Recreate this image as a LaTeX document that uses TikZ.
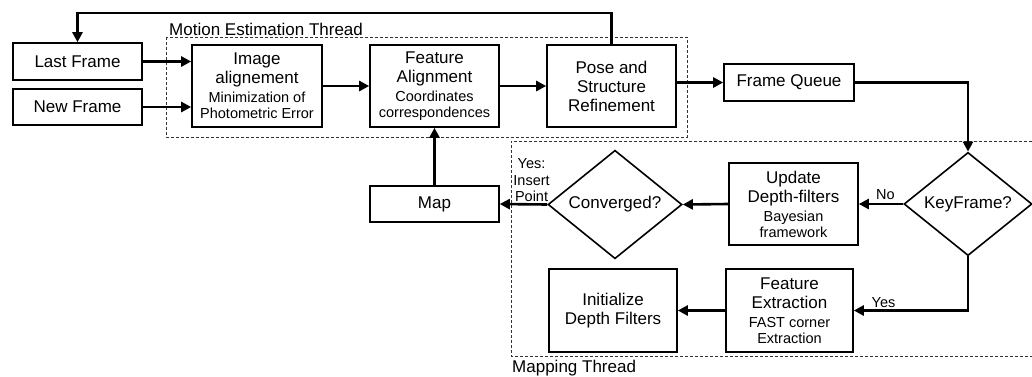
\documentclass[tikz,border=0pt]{standalone}
\usepackage{fontspec}
\setsansfont{Liberation Sans}
\usepackage{tikz}
\usetikzlibrary{arrows.meta,shapes.geometric,positioning}
\newcommand\blockfont{\sffamily\fontsize{17}{19}\selectfont}
\newcommand\notefont{\sffamily\fontsize{14.5}{16.5}\selectfont}
\tikzset{
  block/.style  = {draw, line width=1.6pt, font=\blockfont, align=center,
                   minimum width=129pt, inner sep=2pt},
  tall/.style   = {block, minimum height=82pt},
  flat/.style   = {block, minimum height=37pt},
  decide/.style = {draw, diamond, line width=1.6pt, font=\blockfont, inner sep=0pt,
                   minimum width=134pt, minimum height=87pt},
  flow/.style   = {-{Triangle[length=10pt,width=10pt]}, line width=2.6pt},
  thread/.style = {line width=0.8pt, dash pattern=on 3pt off 2pt, black!80},
  note/.style   = {font=\notefont, align=center, inner sep=1pt}
}

\begin{document}
\begin{tikzpicture}[x=1pt,y=-1pt]
\useasboundingbox (0,0) rectangle (1032,376);
% threads
\draw[thread] (166,37) rectangle (687,137);
\node[anchor=base west, inner sep=0pt, font=\blockfont] (motionlbl) at (169,35) {Motion Estimation Thread};
\draw[thread] (1032,141) -| (511,356) -- (1032,356);
\node[anchor=base west, inner sep=0pt, font=\blockfont] (mappinglbl) at (512,372) {Mapping Thread};

% motion estimation
\node[flat, minimum height=37pt] (last) at (77.5,61.5) {Last Frame};
\node[flat, minimum height=36pt] (new) at (77.5,107) {New Frame};
\node[tall, minimum width=130pt] (imgalign) at (257,86)
  {Image\\alignement\\{\notefont Minimization of}\\[-3pt]{\notefont Photometric Error}};
\node[tall] (featalign) at (434.5,86)
  {Feature\\Alignment\\{\notefont Coordinates}\\[-3pt]{\notefont correspondences}};
\node[tall] (pose) at (611.5,86) {Pose and\\Structure\\Refinement};
\node[flat, minimum width=130pt] (queue) at (789,82.5) {Frame Queue};

% mapping
\node[decide, minimum width=128pt, minimum height=86pt] (keyframe) at (968,204) {KeyFrame?};
\node[tall] (update) at (793.5,204)
  {Update\\Depth-filters\\{\notefont Bayesian}\\[-3pt]{\notefont framework}};
\node[decide] (converged) at (615,204.5) {Converged?};
\node[flat, minimum height=36pt] (map) at (434.5,204) {Map};
\node[tall, minimum width=127pt, minimum height=83pt] (featextract) at (789.5,310.5)
  {Feature\\Extraction\\{\notefont FAST corner}\\[-3pt]{\notefont Extraction}};
\node[tall, minimum width=128pt, minimum height=83pt] (initdepth) at (613,310.5)
  {Initialize\\Depth Filters};

% connectors
\draw[flow] (last.east) -- (last.east -| imgalign.west);
\draw[flow] (new.east) -- (new.east -| imgalign.west);
\draw[flow] (imgalign.east) -- (featalign.west);
\draw[flow] (featalign.east) -- (pose.west);
\draw[flow] (pose.east |- queue.west) -- (queue.west);
\draw[flow] (pose.north) |- (77.5,13) -- (last.north);
\draw[flow] (queue.east) -| (keyframe.north);
\draw[flow] (keyframe.west) -- node[note, above, pos=0.4, inner sep=3pt] {No} (update.east);
\draw[flow] (update.west) -- (converged.east);
\draw[flow] (converged.west) -- node[note, above, pos=0.33] {Yes:\\Insert\\Point} (map.east);
\draw[flow] (map.north) -- (featalign.south);
\draw[flow] (keyframe.south) |- node[note, above, pos=0.87, inner sep=2pt] {Yes} (featextract.east);
\draw[flow] (featextract.west) -- (initdepth.east);
\end{tikzpicture}
\end{document}
